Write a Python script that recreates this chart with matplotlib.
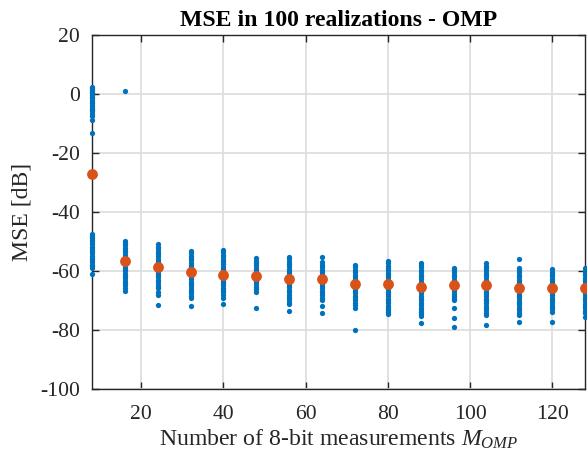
import matplotlib
matplotlib.use("Agg")
import matplotlib.pyplot as plt

# ---------------- data ----------------
m_values = [8, 16, 24, 32, 40, 48, 56, 64, 72, 80, 88, 96, 104, 112, 120, 128]

mse_8 = [2.6, 2.0, 1.4, 0.9, 0.3, -0.3, -0.8, -1.4, -2.0, -2.6, -3.1, -3.7, -4.3,
         -4.9, -5.4, -5.8, -6.6, -7.3, -8.6, -13.2,
         -47.3, -48.0, -48.8, -49.5, -50.3, -51.0, -51.8, -52.5, -53.3, -54.0,
         -54.8, -55.5, -56.3, -57.0, -57.8, -58.4, -58.9, -61.0]
mse_16 = [1.1, -49.7, -50.5, -51.3, -52.1, -52.9, -53.7, -54.5, -55.3, -56.1, -56.9,
          -57.7, -58.5, -59.3, -60.1, -60.9, -61.7, -62.5, -63.3, -64.1, -64.9, -65.7, -66.7]
mse_24 = [-51.0, -51.8, -52.6, -53.4, -54.2, -55.0, -55.8, -56.6, -57.4, -58.2, -59.0,
          -59.8, -60.6, -61.4, -62.2, -63.0, -63.8, -64.6, -65.3, -65.9, -67.0, -68.1, -71.5]
mse_32 = [-53.2, -54.0, -54.8, -55.6, -56.4, -57.2, -58.0, -58.8, -59.6, -60.4, -61.2,
          -62.0, -62.8, -63.6, -64.4, -65.2, -66.0, -66.8, -67.6, -68.4, -69.3, -71.8]
mse_40 = [-52.9, -53.7, -54.5, -55.3, -56.1, -56.9, -57.7, -58.5, -59.3, -60.1, -60.9,
          -61.7, -62.5, -63.3, -64.1, -64.9, -65.7, -66.5, -67.3, -68.1, -69.3, -71.3]
mse_48 = [-55.7, -56.5, -57.3, -58.1, -58.9, -59.7, -60.5, -61.3, -62.1, -62.9, -63.7,
          -64.5, -65.3, -66.1, -67.0, -72.6]
mse_56 = [-55.2, -56.0, -56.8, -57.6, -58.4, -59.2, -60.0, -60.8, -61.6, -62.4, -63.2,
          -64.0, -64.8, -65.6, -66.4, -67.2, -68.0, -68.8, -69.6, -70.4, -71.3, -73.6]
mse_64 = [-55.4, -57.1, -57.9, -58.7, -59.5, -60.3, -61.1, -61.9, -62.7, -63.5, -64.3,
          -65.1, -65.9, -66.7, -67.5, -68.3, -69.1, -69.8, -71.9, -74.1]
mse_72 = [-58.0, -58.8, -59.6, -60.4, -61.2, -62.0, -62.8, -63.6, -64.4, -65.2, -66.0,
          -66.8, -67.6, -68.4, -69.2, -70.0, -70.8, -71.6, -72.6, -80.0]
mse_80 = [-56.6, -57.4, -58.2, -59.0, -59.8, -60.6, -61.4, -62.2, -63.0, -63.8, -64.6,
          -65.4, -66.2, -67.0, -67.8, -68.6, -69.4, -70.2, -71.0, -71.8, -72.6, -73.4,
          -74.0, -74.7]
mse_88 = [-57.2, -58.0, -58.8, -59.6, -60.4, -61.2, -62.0, -62.8, -63.6, -64.4, -65.2,
          -66.0, -66.8, -67.6, -68.4, -69.2, -70.0, -70.8, -71.6, -72.4, -73.2, -74.0,
          -74.6, -75.2, -77.7]
mse_96 = [-58.9, -59.7, -60.5, -61.3, -62.1, -62.9, -63.7, -64.5, -65.3, -66.1, -66.9,
          -67.7, -68.5, -69.2, -69.8, -72.6, -75.8, -78.9]
mse_104 = [-57.4, -58.2, -59.0, -59.8, -60.6, -61.4, -62.2, -63.0, -63.8, -64.6, -65.4,
           -66.2, -67.0, -67.8, -68.6, -69.4, -70.2, -71.0, -71.8, -72.6, -73.4, -74.2,
           -74.9, -78.3]
mse_112 = [-56.0, -58.9, -59.7, -60.5, -61.3, -62.1, -62.9, -63.7, -64.5, -65.3, -66.1,
           -66.9, -67.7, -68.5, -69.3, -70.1, -70.9, -71.7, -72.5, -73.3, -74.1, -74.9, -77.4]
mse_120 = [-59.4, -60.2, -61.0, -61.8, -62.6, -63.4, -64.2, -65.0, -65.8, -66.6, -67.4,
           -68.2, -69.0, -69.8, -70.6, -71.4, -72.2, -73.0, -73.8, -77.2]
mse_128 = [-59.1, -59.9, -60.7, -61.5, -62.3, -63.1, -63.9, -64.7, -65.5, -66.3, -67.1,
           -67.9, -68.7, -69.5, -70.3, -71.1, -71.9, -72.7, -73.5, -74.3, -75.5]

mse_groups = [mse_8, mse_16, mse_24, mse_32, mse_40, mse_48, mse_56, mse_64,
              mse_72, mse_80, mse_88, mse_96, mse_104, mse_112, mse_120, mse_128]

mse_mean = [-26.9, -56.6, -58.7, -60.3, -61.4, -61.7, -62.8, -62.8,
            -64.4, -64.4, -65.3, -64.9, -64.9, -65.8, -65.8, -65.8]

x_ticks = [20, 40, 60, 80, 100, 120]
y_ticks = [-100, -80, -60, -40, -20, 0, 20]

# ---------------- style ----------------
plt.rcParams['font.family'] = ['Liberation Serif', 'DejaVu Serif']
plt.rcParams['mathtext.fontset'] = 'custom'
plt.rcParams['mathtext.rm'] = 'Liberation Serif'
plt.rcParams['mathtext.it'] = 'Liberation Serif:italic'
plt.rcParams['axes.unicode_minus'] = False

blue = '#0072BD'
orange = '#D95319'
fs = 15.6
fs_lab = 17.1

fig = plt.figure(figsize=(5.87, 4.57), dpi=100)
ax = fig.add_axes([92/587, 1 - 388.8/457, (585 - 92)/587, (388.8 - 35.4)/457])

for m, vals in zip(m_values, mse_groups):
    ax.plot([m] * len(vals), vals, linestyle='none', marker='o', markersize=3.8,
            color=blue, markeredgewidth=0, zorder=3, clip_on=False)

ax.plot(m_values, mse_mean, linestyle='none', marker='o', markersize=7.8,
        color=orange, markeredgewidth=0, zorder=4, clip_on=False)

ax.set_xlim(8, 128)
ax.set_ylim(-100, 20)
ax.set_xticks(x_ticks)
ax.set_yticks(y_ticks)
ax.set_xticklabels([str(v) for v in x_ticks])
ax.set_yticklabels([str(v) for v in y_ticks])

ax.grid(True, color='#dedede', linewidth=1.3, zorder=0)
ax.set_axisbelow(True)
for s in ax.spines.values():
    s.set_color('#262626')
    s.set_linewidth(1.0)

ax.tick_params(axis='both', direction='in', length=5, width=1.0, color='#262626',
               top=True, right=True, labelsize=fs, labelcolor='#262626')
ax.tick_params(axis='y', pad=8.9)
ax.tick_params(axis='x', pad=11.5)

ax.set_title('MSE in 100 realizations - OMP', fontsize=fs_lab, fontweight='bold', pad=7)
ax.set_xlabel('Number of 8-bit measurements $M_{OMP}$', fontsize=fs_lab, color='#262626', labelpad=3)
ax.set_ylabel('MSE [dB]', fontsize=fs_lab, color='#262626', labelpad=5)

fig.savefig('out.png', dpi=100)
